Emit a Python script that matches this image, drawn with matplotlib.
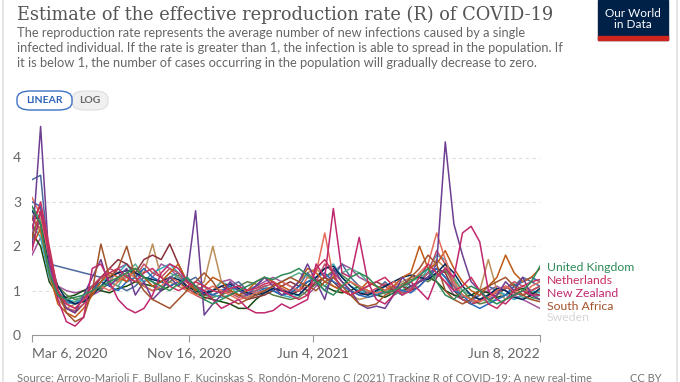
import pandas as pd
import numpy as np
import matplotlib.pyplot as plt
from matplotlib.patches import FancyBboxPatch, Rectangle
from matplotlib.lines import Line2D

# dates every ~2 weeks from Mar 6, 2020 to Jun 8, 2022 (60 points)
dates = pd.date_range("2020-03-06", "2022-06-08", periods=60)

purple = [2.0, 4.7, 1.6, 0.9, 0.6, 0.5, 0.9, 1.3, 1.7, 1.1,
          1.3, 1.5, 0.9, 1.2, 0.8, 1.0, 1.3, 1.1, 1.3, 2.8,
          0.45, 0.7, 0.9, 1.2, 1.0, 0.9, 1.1, 1.3, 1.1, 0.9,
          1.0, 1.2, 1.6, 1.2, 0.8, 1.5, 1.2, 1.0, 0.7, 0.6,
          0.65, 0.6, 0.9, 1.3, 1.1, 1.2, 1.3, 1.6, 4.35, 2.5,
          1.8, 1.2, 1.0, 0.8, 0.9, 1.2, 1.0, 1.3, 0.9, 0.8]
slate = [3.5, 3.6, 1.6, 1.55, 1.5, 1.45, 1.4, 1.35, 1.3, 1.2,
         1.1, 1.0, 1.1, 1.3, 1.2, 1.0, 1.3, 1.4, 1.2, 1.3,
         1.1, 0.9, 1.0, 1.1, 1.2, 1.0, 1.1, 1.3, 1.2, 1.0,
         0.9, 1.1, 1.4, 1.2, 1.0, 1.3, 1.6, 1.3, 1.1, 0.9,
         1.0, 1.2, 1.0, 0.9, 1.1, 1.2, 1.4, 1.5, 1.3, 1.1,
         0.9, 0.8, 0.9, 1.1, 1.0, 0.9, 1.1, 1.3, 1.2, 1.1]
teal = [2.5, 2.2, 1.3, 0.9, 0.8, 0.75, 0.8, 1.0, 1.2, 1.3,
        1.4, 1.6, 1.3, 1.2, 1.4, 1.5, 1.6, 1.4, 1.2, 1.1,
        1.0, 0.9, 0.85, 0.9, 1.0, 0.95, 1.0, 1.1, 1.0, 0.9,
        0.85, 0.9, 1.1, 1.3, 1.5, 1.6, 1.3, 1.1, 1.0, 0.9,
        0.95, 1.1, 1.2, 1.1, 1.0, 1.2, 1.5, 1.8, 1.7, 1.2,
        0.8, 0.7, 0.8, 0.9, 1.0, 0.9, 0.8, 0.9, 1.0, 0.95]
seagreen = [2.9, 2.6, 1.5, 0.9, 0.7, 0.75, 0.9, 1.1, 1.3, 1.2,
            1.1, 1.4, 1.6, 1.3, 1.1, 1.2, 1.4, 1.3, 1.1, 1.0,
            0.9, 1.0, 1.2, 1.1, 0.9, 0.85, 0.9, 1.0, 1.1, 1.2,
            1.3, 1.4, 1.3, 1.2, 1.1, 1.3, 1.4, 1.5, 1.4, 1.2,
            1.1, 1.0, 0.9, 1.0, 1.2, 1.3, 1.4, 1.3, 1.5, 1.3,
            1.0, 0.9, 0.8, 0.75, 0.8, 0.9, 1.0, 0.85, 0.8, 0.9]
orange = [2.0, 2.4, 1.4, 0.7, 0.5, 0.4, 0.6, 0.9, 1.2, 1.4,
          1.3, 1.2, 1.5, 1.3, 1.1, 1.2, 1.4, 1.6, 1.2, 1.0,
          1.1, 1.3, 1.2, 1.0, 0.9, 1.0, 1.2, 1.3, 1.2, 1.1,
          1.0, 1.2, 1.5, 1.4, 1.2, 1.1, 1.0, 0.9, 1.0, 1.2,
          1.1, 1.0, 1.1, 1.3, 1.4, 2.0, 1.5, 1.6, 1.9, 1.5,
          1.2, 1.0, 0.9, 1.1, 1.3, 1.8, 1.4, 1.2, 1.3, 1.5]
tan = [2.7, 2.3, 1.3, 0.8, 0.6, 0.7, 0.9, 1.1, 1.2, 1.3,
       1.2, 1.3, 1.5, 1.4, 2.05, 1.3, 1.2, 1.1, 1.0, 1.1,
       1.2, 2.0, 1.2, 1.0, 0.9, 0.95, 1.0, 1.1, 1.0, 0.9,
       1.0, 1.2, 1.4, 1.5, 1.3, 1.1, 1.0, 0.9, 0.8, 0.85,
       0.9, 1.0, 1.1, 1.2, 1.3, 1.3, 1.4, 1.7, 1.5, 1.1,
       0.9, 0.8, 1.0, 1.7, 1.0, 0.8, 0.9, 1.0, 0.9, 1.0]
navy = [2.8, 2.5, 1.6, 1.1, 0.8, 0.7, 0.75, 0.9, 1.1, 1.3,
        1.4, 1.45, 1.4, 1.3, 1.25, 1.2, 1.3, 1.25, 1.1, 1.0,
        0.95, 1.0, 1.1, 1.15, 1.05, 0.95, 0.9, 0.95, 1.05, 1.0,
        0.95, 0.9, 1.1, 1.3, 1.5, 1.55, 1.3, 1.1, 0.95, 0.9,
        1.0, 1.1, 1.2, 1.3, 1.35, 1.3, 1.25, 1.4, 1.6, 1.4,
        1.1, 0.9, 0.8, 0.9, 1.05, 1.0, 0.85, 0.8, 0.9, 1.05]
coral = [3.1, 2.7, 1.7, 1.0, 0.7, 0.6, 0.8, 1.0, 1.1, 1.0,
         1.2, 1.4, 1.3, 1.1, 1.0, 1.1, 1.3, 1.2, 1.0, 0.9,
         1.0, 1.1, 1.0, 0.9, 0.8, 0.85, 0.95, 1.0, 1.1, 1.2,
         1.1, 1.0, 1.3, 1.4, 2.3, 1.3, 1.1, 1.2, 1.1, 1.0,
         0.95, 1.0, 1.2, 1.1, 1.2, 1.4, 1.6, 2.3, 1.7, 1.2,
         0.9, 0.8, 0.75, 0.85, 1.0, 1.1, 1.0, 0.9, 1.1, 1.2]
maroon = [2.6, 2.9, 1.8, 1.0, 0.6, 0.5, 0.7, 1.0, 1.3, 1.5,
          1.7, 1.6, 1.4, 1.7, 1.8, 1.7, 2.05, 1.6, 1.2, 1.0,
          0.9, 1.0, 1.1, 1.0, 0.9, 0.8, 0.85, 0.9, 1.0, 1.1,
          1.2, 1.1, 1.0, 1.2, 1.3, 1.2, 1.0, 0.9, 1.0, 1.1,
          1.2, 1.1, 1.0, 1.1, 1.0, 1.1, 1.3, 1.5, 1.4, 1.0,
          0.8, 0.7, 0.75, 0.9, 1.0, 1.1, 0.95, 0.9, 1.0, 1.1]
rose = [2.6, 2.4, 1.6, 0.9, 0.6, 0.55, 0.7, 0.9, 1.2, 1.5,
        1.4, 1.2, 1.3, 1.6, 1.4, 1.3, 1.5, 1.4, 1.1, 0.9,
        0.8, 0.9, 1.0, 0.95, 0.85, 0.9, 1.0, 1.1, 1.15, 1.05,
        0.95, 1.0, 1.1, 1.2, 1.6, 1.4, 1.2, 1.0, 0.9, 0.95,
        1.05, 1.15, 1.05, 0.95, 1.05, 1.2, 1.4, 1.9, 1.6, 1.1,
        0.8, 0.7, 0.8, 0.85, 0.95, 1.05, 1.2, 1.1, 1.0, 1.1]
olive = [2.1, 2.6, 1.7, 1.1, 0.9, 0.8, 0.85, 0.95, 1.05, 1.15,
         1.25, 1.35, 1.2, 1.1, 1.0, 1.05, 1.2, 1.35, 1.25, 1.05,
         0.9, 0.85, 0.9, 1.0, 1.1, 1.2, 1.15, 1.0, 0.9, 0.85,
         0.8, 0.85, 1.0, 1.15, 1.3, 1.45, 1.35, 1.2, 1.05, 0.95,
         0.9, 0.95, 1.05, 1.15, 1.25, 1.3, 1.2, 1.35, 1.45, 1.25,
         1.0, 0.8, 0.7, 0.75, 0.9, 1.05, 1.15, 1.0, 0.85, 0.8]
south_africa = [2.2, 2.8, 1.9, 1.0, 0.5, 0.3, 0.4, 1.0, 2.05, 1.3,
                1.5, 2.0, 1.3, 1.0, 0.8, 0.7, 0.6, 0.8, 1.0, 1.2,
                1.4, 1.2, 0.9, 0.8, 0.7, 0.8, 0.9, 1.0, 1.1, 1.2,
                1.3, 1.2, 1.1, 1.0, 1.2, 1.3, 1.1, 0.9, 0.7, 0.65,
                0.7, 0.9, 1.0, 1.1, 1.3, 1.5, 1.8, 1.6, 1.0, 0.8,
                0.7, 0.8, 1.0, 1.1, 1.2, 1.3, 1.1, 0.9, 0.8, 0.75]
new_zealand = [1.9, 2.8, 1.8, 0.8, 0.3, 0.2, 0.4, 1.5, 1.6, 1.2,
               0.8, 0.6, 0.5, 0.6, 0.9, 1.4, 1.6, 1.5, 1.2, 1.1,
               1.0, 0.8, 0.6, 0.7, 0.8, 0.6, 0.5, 0.5, 0.55, 0.7,
               0.6, 0.7, 0.8, 1.6, 1.3, 2.85, 1.4, 1.3, 2.2, 1.2,
               0.8, 0.7, 0.9, 1.1, 1.2, 1.0, 0.8, 1.3, 1.5, 1.3,
               2.3, 2.45, 2.1, 1.0, 0.8, 0.7, 0.9, 1.0, 0.9, 0.9]
netherlands = [2.4, 3.0, 2.0, 1.0, 0.7, 0.6, 0.8, 1.1, 1.3, 1.4,
               1.5, 1.3, 1.2, 1.4, 1.5, 1.3, 1.1, 1.0, 1.1, 1.2,
               1.1, 1.0, 0.95, 1.05, 1.1, 1.0, 1.05, 1.15, 1.2, 1.0,
               0.9, 0.8, 0.9, 1.5, 1.7, 1.4, 1.0, 0.9, 1.0, 1.1,
               1.2, 1.3, 1.1, 0.9, 1.0, 1.3, 1.6, 1.4, 1.2, 1.0,
               1.1, 1.3, 1.0, 0.7, 0.6, 0.8, 1.0, 1.1, 1.2, 1.25]
united_kingdom = [2.9, 2.5, 1.4, 0.9, 0.8, 0.85, 0.9, 1.0, 1.1, 1.2,
                  1.3, 1.4, 1.5, 1.3, 1.2, 1.1, 1.0, 1.15, 1.3, 1.1,
                  0.8, 0.7, 0.8, 0.9, 1.0, 1.1, 1.2, 1.3, 1.25, 1.35,
                  1.4, 1.5, 1.35, 1.2, 1.0, 0.9, 1.1, 1.3, 1.4, 1.3,
                  1.1, 0.95, 1.0, 1.1, 1.2, 1.35, 1.5, 1.2, 0.9, 0.8,
                  1.0, 1.1, 1.0, 0.8, 0.7, 0.8, 0.9, 1.0, 1.2, 1.55]
darkgreen = [2.3, 2.0, 1.2, 0.9, 0.85, 0.9, 1.0, 1.1, 1.0, 0.95,
             1.05, 1.1, 1.2, 1.15, 1.1, 1.0, 1.1, 1.2, 1.05, 0.95,
             0.85, 0.8, 0.75, 0.7, 0.6, 0.6, 0.8, 0.95, 1.05, 1.0,
             0.9, 1.0, 1.2, 1.25, 1.1, 1.0, 0.95, 1.0, 1.1, 1.0,
             0.9, 0.85, 0.95, 1.0, 1.1, 1.2, 1.3, 1.2, 1.0, 0.9,
             0.85, 0.9, 1.0, 0.95, 0.85, 0.9, 1.0, 1.05, 0.95, 0.9]
blue = [3.0, 2.9, 1.6, 1.0, 0.75, 0.7, 0.8, 1.0, 1.2, 1.1,
        1.0, 1.2, 1.3, 1.5, 1.3, 1.2, 1.1, 1.2, 1.3, 1.1,
        0.95, 0.9, 1.0, 1.1, 1.0, 0.9, 0.95, 1.05, 1.0, 0.9,
        0.95, 1.1, 1.2, 1.3, 1.4, 1.2, 1.1, 1.0, 0.9, 0.85,
        0.9, 1.0, 1.1, 1.0, 0.95, 1.1, 1.3, 1.5, 1.3, 1.0,
        0.9, 0.7, 0.6, 0.7, 0.8, 0.9, 1.1, 1.2, 1.3, 1.2]
sweden = [1.8, 2.2, 1.5, 1.1, 1.0, 0.95, 1.0, 0.9, 1.0, 1.2,
          1.5, 1.6, 1.4, 1.2, 1.3, 1.6, 1.5, 1.3, 1.2, 1.0,
          0.9, 1.0, 1.2, 1.25, 1.1, 1.0, 1.1, 1.2, 1.3, 1.2,
          1.1, 1.0, 0.9, 1.1, 1.3, 1.4, 1.6, 1.5, 1.3, 1.2,
          1.1, 1.0, 0.9, 1.0, 1.1, 1.2, 1.3, 1.4, 1.2, 0.9,
          0.8, 0.75, 0.9, 1.0, 1.1, 1.0, 0.9, 0.8, 0.7, 0.6]

series = [
    (sweden, "#A2559C"), (darkgreen, "#18470F"), (tan, "#BC8E5A"),
    (olive, "#578145"), (slate, "#4C6A9C"), (teal, "#38AABA"),
    (seagreen, "#58AC8C"), (maroon, "#883039"), (rose, "#C15065"),
    (blue, "#286BBB"), (navy, "#00295B"), (orange, "#C05917"),
    (coral, "#E56E5A"), (purple, "#6D3E91"),
    (south_africa, "#A2532C"), (new_zealand, "#C0286E"),
    (netherlands, "#C8305F"), (united_kingdom, "#2E8B57"),
]

end_labels = ["United Kingdom", "Netherlands", "New Zealand", "South Africa"]
end_label_y = [1.51, 1.22, 0.93, 0.65]
end_label_colors = ["#2E8B57", "#C8305F", "#C0286E", "#A2532C"]

tick_dates = pd.to_datetime(["2020-03-06", "2020-11-16", "2021-06-04", "2022-06-08"])
tick_labels = ["Mar 6, 2020", "Nov 16, 2020", "Jun 4, 2021", "Jun 8, 2022"]

plt.rcParams["font.family"] = ["Lato", "DejaVu Sans"]
W, H = 680, 382
fig = plt.figure(figsize=(6.8, 3.82), dpi=100)

ax = fig.add_axes([32 / W, 1 - 335 / H, 508 / W, (335 - 122) / H])
for vals, col in series:
    ax.plot(dates, vals, color=col, lw=1.1, solid_joinstyle="round")

ax.set_xlim(tick_dates[0], tick_dates[-1])
ax.set_ylim(0, 4.8)
ax.set_yticks([0, 1, 2, 3, 4])
ax.set_xticks(tick_dates)
ax.set_xticklabels(tick_labels)
ax.tick_params(axis="y", length=0, pad=8, labelsize=10, labelcolor="#666666")
ax.tick_params(axis="x", length=5, color="#999999", pad=4, labelsize=10,
               labelcolor="#666666")
xt = ax.get_xticklabels()
xt[0].set_ha("left")
xt[-1].set_ha("right")
ax.grid(axis="y", color="#dddddd", linestyle=(0, (3, 3)), lw=0.8)
for s in ["top", "right", "left"]:
    ax.spines[s].set_visible(False)
ax.spines["bottom"].set_color("#999999")
ax.spines["bottom"].set_linewidth(0.8)

# faded label, mostly hidden behind South Africa in the original
ax.annotate("Sweden", xy=(1, 0.39), xycoords=("axes fraction", "data"),
            xytext=(5, 0), textcoords="offset points", va="center",
            ha="left", fontsize=8.8, color="#d6d6d6", zorder=0,
            annotation_clip=False)
for lab, y, col in zip(end_labels, end_label_y, end_label_colors):
    ax.annotate(lab, xy=(1, y), xycoords=("axes fraction", "data"),
                xytext=(5, 0), textcoords="offset points",
                va="center", ha="left", fontsize=8.8, color=col,
                annotation_clip=False)

# header
fig.text(17 / W, 1 - 15 / H, "Estimate of the effective reproduction rate (R) of COVID-19",
         family="DejaVu Serif", fontsize=12.8, color="#555555", va="center")
subtitle = ("The reproduction rate represents the average number of new infections caused by a single\n"
            "infected individual. If the rate is greater than 1, the infection is able to spread in the population. If\n"
            "it is below 1, the number of cases occurring in the population will gradually decrease to zero.")
fig.text(17 / W, 1 - 27 / H, subtitle, fontsize=9.3, color="#666666",
         va="top", linespacing=1.3)

# logo
fig.patches.append(Rectangle((598 / W, 1 - 40 / H), 70 / W, 40 / H,
                             transform=fig.transFigure, color="#002147"))
fig.patches.append(Rectangle((598 / W, 1 - 40 / H), 70 / W, 4 / H,
                             transform=fig.transFigure, color="#CE261E"))
fig.text(633 / W, 1 - 19 / H, "Our World\nin Data", ha="center", va="center",
         color="white", fontsize=8.5, linespacing=1.0)

# linear / log buttons
fig.patches.append(FancyBboxPatch((72 / W, 1 - 110 / H), 36 / W, 19 / H,
                                  boxstyle="round,pad=0,rounding_size=0.02",
                                  transform=fig.transFigure, fc="#f0f0f0",
                                  ec="#dddddd", lw=0.8))
fig.patches.append(FancyBboxPatch((17 / W, 1 - 110 / H), 55 / W, 19 / H,
                                  boxstyle="round,pad=0,rounding_size=0.02",
                                  transform=fig.transFigure, fc="white",
                                  ec="#3d72c4", lw=1))
fig.text(44.5 / W, 1 - 100.5 / H, "LINEAR", ha="center", va="center",
         fontsize=7.5, color="#2c62b5", weight="bold")
fig.text(90 / W, 1 - 100.5 / H, "LOG", ha="center", va="center",
         fontsize=7.5, color="#666666", weight="bold")

# footer
fig.text(17 / W, 1 - 378 / H,
         "Source: Arroyo-Marioli F, Bullano F, Kucinskas S, Rondón-Moreno C (2021) Tracking R of COVID-19: A new real-time",
         fontsize=8, color="#777777", va="center")
fig.text(662 / W, 1 - 378 / H, "CC BY", fontsize=8, color="#777777",
         va="center", ha="right")

# frame edges
fig.lines.append(Line2D([3 / W, 3 / W], [0, 1], transform=fig.transFigure,
                        color="#e0e0e0", lw=1.2))
fig.lines.append(Line2D([677 / W, 677 / W], [0, 1], transform=fig.transFigure,
                        color="#e0e0e0", lw=1.2))

plt.savefig("out.png", dpi=100)
